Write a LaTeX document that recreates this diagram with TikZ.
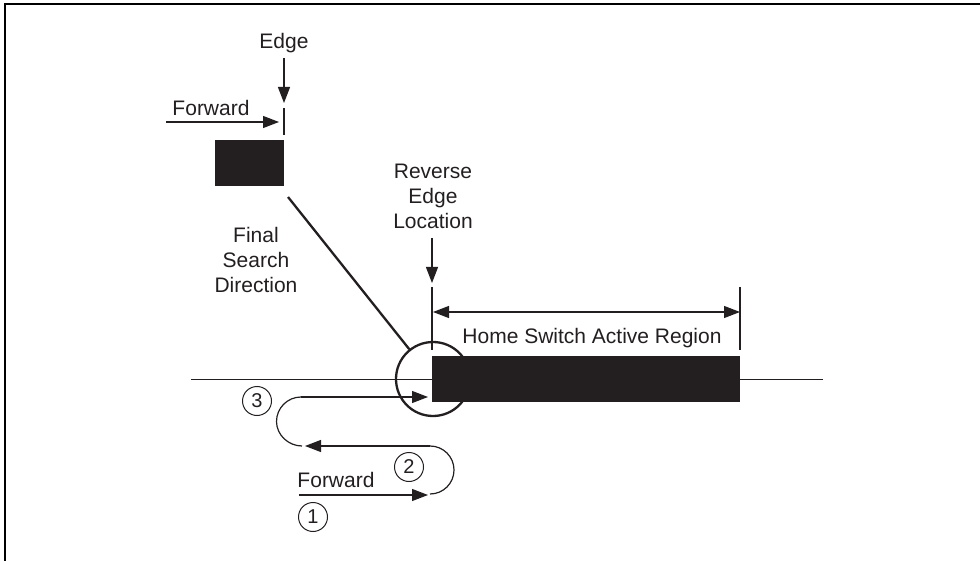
\documentclass[tikz,border=0pt]{standalone}
\usepackage{fontspec}
\setmainfont{Liberation Sans}
\usetikzlibrary{arrows.meta}
\definecolor{ink}{RGB}{35,31,32}
\begin{document}
\begin{tikzpicture}[x=1pt,y=-1pt,
  lbl/.style={font=\fontsize{21}{25}\selectfont, text=ink, inner sep=0pt, align=center, anchor=base},
  ln/.style={draw=ink, line width=1.2pt},
  arr/.style={ln, -{Triangle[length=16pt,width=12pt]}},
  arrboth/.style={ln, {Triangle[length=16pt,width=12pt]}-{Triangle[length=16pt,width=12pt]}},
  blk/.style={fill=ink, inner sep=0pt, anchor=north west},
  num/.style={circle, draw=ink, line width=1pt, minimum size=29pt, inner sep=0pt, text=ink, font=\fontsize{20}{20}\selectfont},
  thick line/.style={draw=ink, line width=2.3pt}
]
\useasboundingbox (0,0) rectangle (980,561);
\draw[line width=2pt] (5,561) -- (5,4.5) -- (980,4.5);

% top left group
\node[lbl] (edge) at (284,49) {Edge};
\coordinate (edgeA) at (284,58);
\coordinate (edgeB) at (284,103);
\draw[arr] (edgeA) -- (edgeB);
\coordinate (tickA) at (284,108);
\coordinate (tickB) at (284,135);
\draw[ln] (tickA) -- (tickB);
\node[lbl] (fwdtop) at (211,116) {Forward};
\coordinate (fwdA) at (166,122);
\coordinate (fwdB) at (279,122);
\draw[arr] (fwdA) -- (fwdB);
\node[blk, minimum width=69pt, minimum height=46pt] (blk1) at (215,140) {};

\node[lbl] (final) at (256,293) {Final\\Search\\Direction};
\node[lbl] (rev) at (433,229) {Reverse\\Edge\\Location};
\coordinate (revA) at (432,238);
\coordinate (revB) at (432,283);
\draw[arr] (revA) -- (revB);

% axis line and home switch
\coordinate (axL) at (191,379);
\coordinate (axR) at (823,379);
\draw[ln, line width=1pt] (axL) -- (axR);
\node[blk, minimum width=308pt, minimum height=46pt] (home) at (432,356) {};
\coordinate (htA) at (432,287);
\coordinate (htB) at (432,350);
\coordinate (htC) at (740,287);
\coordinate (htD) at (740,350);
\draw[ln] (htA) -- (htB);
\draw[ln] (htC) -- (htD);
\coordinate (dimL) at (433,312);
\coordinate (dimR) at (740,312);
\draw[arrboth] (dimL) -- (dimR);
\node[lbl] (homelbl) at (592,343) {Home Switch Active Region};

% reverse edge circle and search line
\node[circle, draw=ink, line width=2.3pt, minimum size=74pt, inner sep=0pt] (ring) at (433,379) {};
\coordinate (diagA) at (288,197);
\draw[thick line] (diagA) -- (ring);

% search path
\coordinate (p1a) at (299,495);
\coordinate (p1b) at (428,495);
\draw[arr] (p1a) -- (p1b);
\coordinate (p2a) at (430,446);
\coordinate (p2b) at (305,446);
\draw[ln] (430,494) .. controls (443.3,494) and (454,483.3) .. (454,470)
                   .. controls (454,456.7) and (443.3,446) .. (p2a);
\draw[arr] (p2a) -- (p2b);
\coordinate (p3a) at (301,397);
\coordinate (p3b) at (428,397);
\draw[ln] (302,446) .. controls (288.5,446) and (276.5,435) .. (276.5,421.5)
                   .. controls (276.5,408) and (287.5,397) .. (p3a);
\draw[arr] (p3a) -- (p3b);

\node[lbl] (fwdbot) at (336,487) {Forward};
\node[num] (n1) at (313,517) {1};
\node[num] (n2) at (409,467) {2};
\node[num] (n3) at (257,401) {3};
\end{tikzpicture}
\end{document}
